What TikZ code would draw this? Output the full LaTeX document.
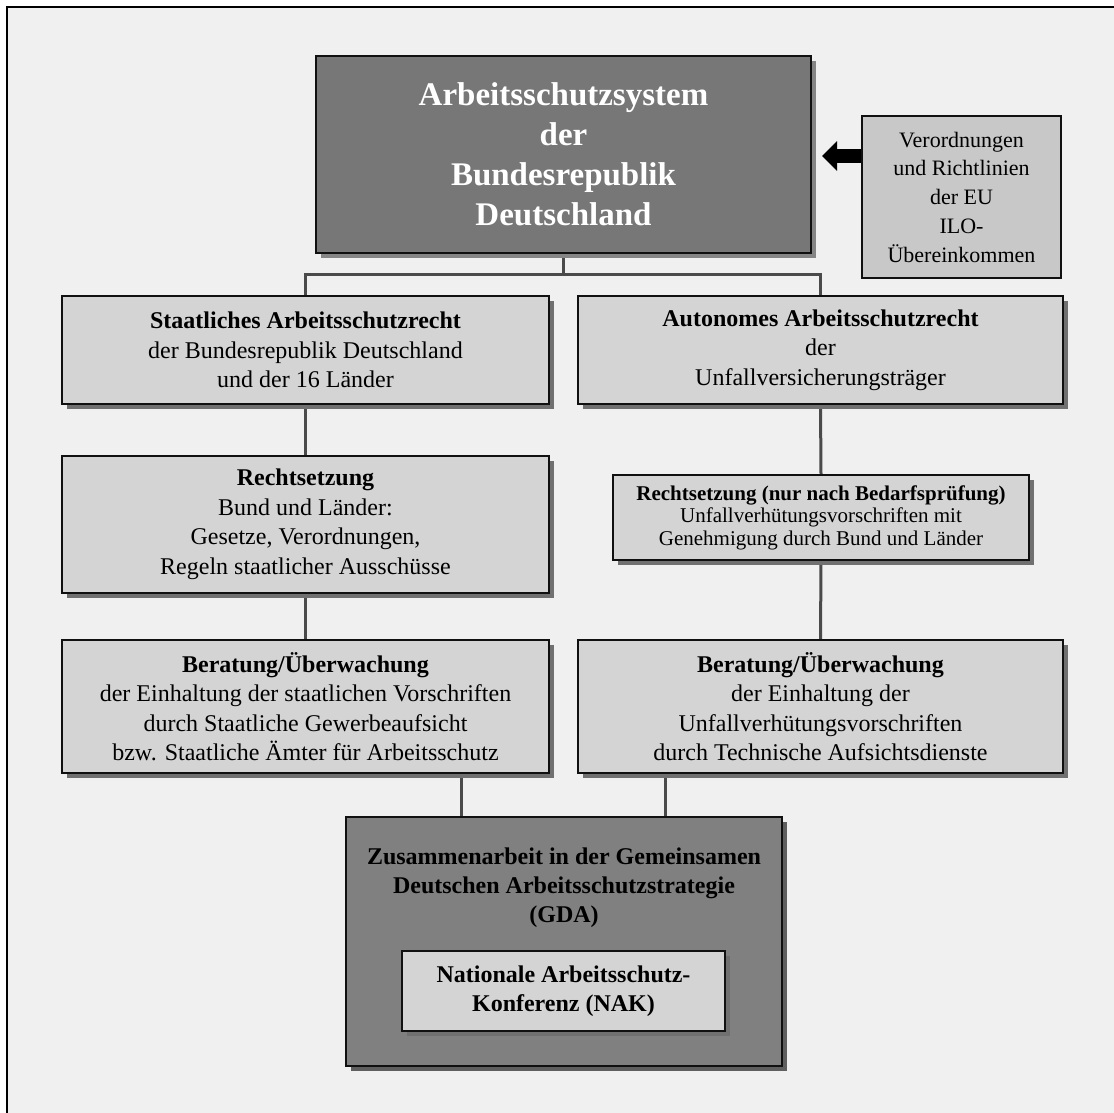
\documentclass[tikz,border=0pt]{standalone}
\usepackage{fontspec}
\setmainfont{Liberation Serif}
\usetikzlibrary{shadows,arrows.meta,backgrounds}
\definecolor{bgc}{HTML}{F0F0F0}
\definecolor{lightfill}{HTML}{D4D4D4}
\definecolor{eufill}{HTML}{C8C8C8}
\definecolor{topfill}{HTML}{777777}
\definecolor{gdafill}{HTML}{808080}
\definecolor{shadowc}{HTML}{707070}
\definecolor{topshadow}{HTML}{858585}
\definecolor{connc}{HTML}{4A4A4A}
\definecolor{edgec}{HTML}{101010}
\begin{document}
\begin{tikzpicture}[x=1pt,y=-1pt,
  basebox/.style={draw=edgec, line width=1.5pt, inner sep=0pt, align=center},
  lbox/.style={basebox, fill=lightfill,
    drop shadow={shadow xshift=5pt, shadow yshift=-5pt, fill=shadowc, opacity=1},
    font=\fontsize{24}{29.5}\selectfont},
  conn/.style={draw=connc, line width=3pt},
]
\useasboundingbox (0,0) rectangle (1114,1113);
% boxes
\node[basebox, fill=topfill, text=white, minimum width=495pt, minimum height=197pt,
  drop shadow={shadow xshift=5pt, shadow yshift=-5pt, fill=topshadow, opacity=1},
  font=\fontsize{33}{40}\selectfont\bfseries] (top) at (563.5,154.5)
  {Arbeitsschutzsystem\\der\\Bundesrepublik\\Deutschland};
\node[basebox, fill=eufill, minimum width=199pt, minimum height=162pt,
  font=\fontsize{22}{28.75}\selectfont] (eu) at (961.5,197)
  {Verordnungen\\und Richtlinien\\der EU\\ILO-\\Übereinkommen};
\node[lbox, minimum width=487pt, minimum height=108pt] (staat) at (305.5,350)
  {\textbf{Staatliches Arbeitsschutzrecht}\\der Bundesrepublik Deutschland\\und der 16 Länder};
\node[lbox, minimum width=485pt, minimum height=108pt] (auto) at (820.5,350)
  {\textbf{Autonomes Arbeitsschutzrecht}\\der\\Unfallversicherungsträger};
\node[lbox, minimum width=487pt, minimum height=137pt] (rechtL) at (305.5,524.5)
  {\textbf{Rechtsetzung}\\Bund und Länder:\\Gesetze, Verordnungen,\\Regeln staatlicher Ausschüsse};
\node[lbox, minimum width=416pt, minimum height=85pt, font=\fontsize{21}{22.5}\selectfont] (rechtR) at (821,517.5)
  {\textbf{Rechtsetzung (nur nach Bedarfsprüfung)}\\Unfallverhütungsvorschriften mit\\Genehmigung durch Bund und Länder};
\node[lbox, minimum width=487pt, minimum height=133pt] (berL) at (305.5,706.5)
  {\textbf{Beratung/Überwachung}\\der Einhaltung der staatlichen Vorschriften\\durch Staatliche Gewerbeaufsicht\\bzw. Staatliche Ämter für Arbeitsschutz};
\node[lbox, minimum width=485pt, minimum height=133pt] (berR) at (820.5,706.5)
  {\textbf{Beratung/Überwachung}\\der Einhaltung der\\Unfallverhütungsvorschriften\\durch Technische Aufsichtsdienste};
\node[basebox, fill=gdafill, minimum width=436pt, minimum height=249pt,
  drop shadow={shadow xshift=5pt, shadow yshift=-5pt, fill=shadowc!85!black, opacity=1}] (gda) at (564,941.5) {};
\node[align=center, inner sep=0pt, font=\fontsize{24}{29}\selectfont\bfseries] (gdatext) at (564,888)
  {Zusammenarbeit in der Gemeinsamen\\Deutschen Arbeitsschutzstrategie\\(GDA)};
\node[basebox, fill=lightfill, minimum width=323pt, minimum height=80pt,
  drop shadow={shadow xshift=5pt, shadow yshift=-5pt, fill=shadowc, opacity=1},
  font=\fontsize{24}{29}\selectfont\bfseries] (nak) at (563.5,991)
  {Nationale Arbeitsschutz-\\Konferenz (NAK)};
% background, frame, connectors
\coordinate (tip) at (822,156);
\coordinate (gx1) at (461,0);
\coordinate (gx2) at (665,0);
\begin{scope}[on background layer]
  \fill[white] (0,0) rectangle (1114,1113);
  \fill[bgc] (7,7) rectangle (1114,1113);
  \draw[black, line width=2pt] (7,1113) -- (7,7) -- (1114,7);
  \draw[conn] (top.south) -- ++(0,20.5) coordinate (j);
  \draw[conn] (staat.north) |- (j) -| (auto.north);
  \draw[conn] (staat.south) -- (rechtL.north);
  \draw[conn] (rechtL.south) -- (berL.north);
  \draw[conn] (auto.south) -- (rechtR.north);
  \draw[conn] (rechtR.south) -- (berR.north);
  \draw[conn] (gx1 |- berL.south) -- (gx1 |- gda.north);
  \draw[conn] (gx2 |- berR.south) -- (gx2 |- gda.north);
  \draw[black, line width=14pt, -{Triangle[length=15pt,width=29pt]}] (eu.west |- tip) -- (tip);
\end{scope}
\end{tikzpicture}
\end{document}
